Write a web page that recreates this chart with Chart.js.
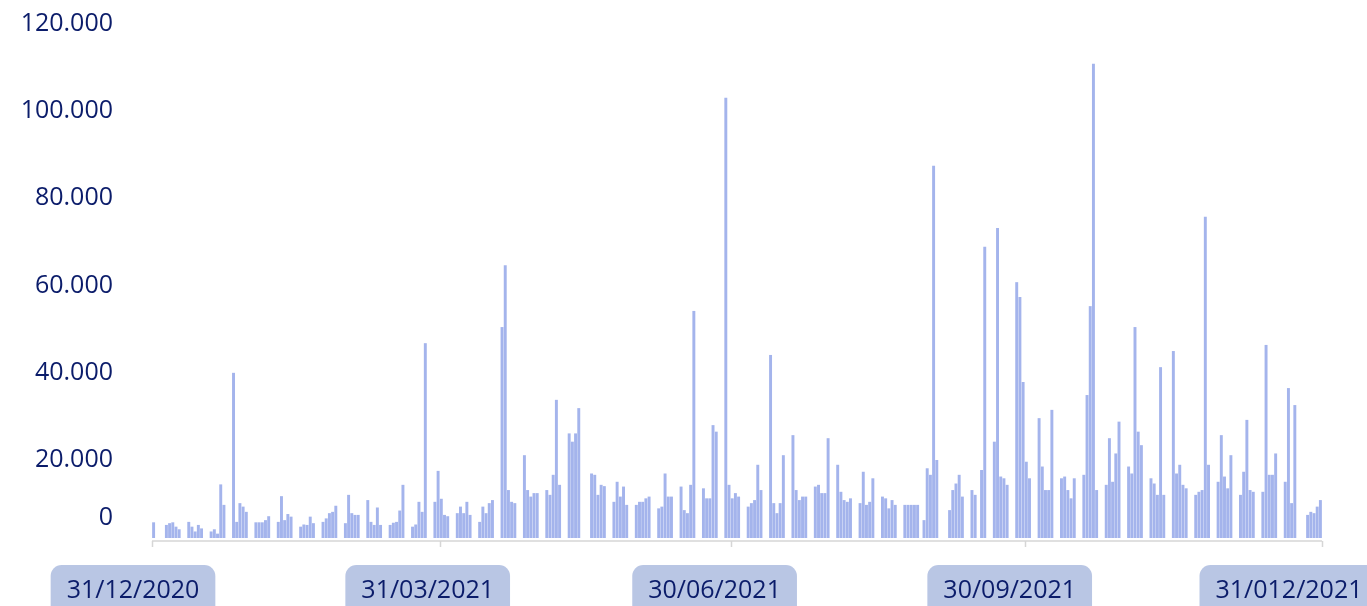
<!DOCTYPE html>
<html>
<head>
<meta charset="utf-8">
<script src="https://cdn.jsdelivr.net/npm/chart.js@4/dist/chart.umd.min.js"></script>
<style>
  html, body { margin: 0; padding: 0; background: #ffffff; }
  canvas { display: block; }
</style>
</head>
<body>
<canvas id="chart" width="1367" height="606"></canvas>
<script>
// Daily values (one entry per day, 0 = no bar)

const year     = 2021
const dec2020  = [3600]
const jan2021  = [0, 0, 0, 3000, 3400, 3600, 2600, 2000, 0, 0, 3700, 2600, 1500, 3000, 2200, 0, 0, 1500, 2000, 1000, 12300, 7600, 0, 0, 37900, 3700, 8000, 7200, 6000, 0, 0]
const feb2021  = [3600, 3600, 3600, 4100, 5000, 0, 0, 3700, 9600, 4100, 5500, 4900, 0, 0, 2600, 3100, 3000, 4900, 3400, 0, 0, 3700, 4500, 5700, 6000, 7400, 0, 0]
const mar2021  = [3400, 9900, 5700, 5300, 5300, 0, 0, 8700, 3700, 3000, 7000, 3000, 0, 0, 3000, 3500, 3700, 6300, 12200, 0, 0, 2600, 3100, 8300, 6000, 44700, 0, 0, 8300, 15400, 9000]
const apr2021  = [5300, 5000, 0, 0, 5700, 7200, 5700, 8300, 5300, 0, 0, 3700, 7200, 5700, 8000, 8700, 0, 0, 48400, 62600, 11000, 8300, 8000, 0, 0, 19000, 11000, 9500, 10300, 10300]
const may2021  = [0, 0, 11000, 9900, 14500, 31700, 12200, 0, 0, 24000, 22100, 24000, 29800, 0, 0, 0, 14800, 14500, 9900, 12200, 11900, 0, 0, 8300, 12900, 9500, 11800, 7600, 0, 0, 7600]
const jun2021  = [8300, 8300, 9100, 9500, 0, 0, 6800, 7200, 14800, 9500, 9500, 0, 0, 11800, 6400, 5700, 12200, 52100, 0, 0, 11400, 9100, 9100, 25900, 24400, 0, 0, 101000, 12200, 9100]
const jul2021  = [10300, 9500, 0, 0, 7200, 8000, 8700, 16800, 11000, 0, 0, 42000, 8000, 5700, 8000, 19000, 0, 0, 23600, 11000, 8700, 9500, 9500, 0, 0, 11800, 12200, 10300, 10300, 22900, 0]
const aug2021  = [0, 16800, 10600, 8700, 8300, 9100, 0, 0, 8000, 15200, 7600, 8300, 13700, 0, 0, 9500, 9100, 6800, 8700, 7600, 0, 0, 7600, 7600, 7600, 7600, 7600, 0, 4100, 16000, 14500]
const sep2021  = [85400, 17900, 0, 0, 0, 6400, 11000, 12500, 14500, 9500, 0, 0, 11000, 9900, 0, 15600, 66800, 0, 0, 22100, 71100, 14100, 13700, 12200, 0, 0, 58700, 55300, 35800, 17500]
const oct2021  = [13700, 0, 0, 27500, 16400, 11000, 11000, 29400, 0, 0, 13700, 14100, 11000, 9100, 13700, 0, 0, 14500, 32800, 53200, 108800, 11000, 0, 0, 12200, 22900, 12900, 19400, 26700, 0, 0]
const nov2021  = [16400, 14800, 48400, 24400, 21300, 0, 0, 13700, 12500, 9900, 39200, 9900, 0, 0, 42900, 14800, 16800, 12200, 11400, 0, 0, 9900, 10600, 11000, 73700, 16800, 0, 0, 12900, 23600]
const dec2021  = [14100, 11400, 19000, 0, 0, 9900, 15200, 27100, 11000, 10600, 0, 0, 10600, 44300, 14500, 14500, 19400, 0, 0, 12900, 34400, 8000, 30500, 0, 0, 0, 5300, 6000, 5700, 7200, 8700]

const months2021 = [jan2021, feb2021, mar2021, apr2021, may2021, jun2021, jul2021, aug2021, sep2021, oct2021, nov2021, dec2021]

// Axis text
const yTickValues = [0, 20000, 40000, 60000, 80000, 100000, 120000]
const yTickLabels = ['0', '20.000', '40.000', '60.000', '80.000', '100.000', '120.000']
const xTickIndex  = [0, 90, 181, 273, 366]
const xTickLabels = ['31/12/2020', '31/03/2021', '30/06/2021', '30/09/2021', '31/012/2021']
const xLabelShift = [-19, -12, -16, -15, -33]

// Category labels: one per day
const pad    = n => String(n).padStart(2, '0')
const labels = ['31/12/2020']
months2021.forEach((month, m) => {
  month.forEach((_, d) => labels.push(`${pad(d + 1)}/${pad(m + 1)}/${year}`))
})
const values = dec2020.concat(...months2021)

const NAVY    = '#0b1c6a'
const FONT    = '"Open Sans", "Noto Sans", sans-serif'
const BOX_BG  = '#b9c6e4'

const axisDecor = {
  id: 'axisDecor',
  afterDraw(chart)
  {
    const { ctx, chartArea } = chart
    const x = chart.scales.x
    const y = chart.scales.y

    ctx.save()

    // baseline with quarter tick marks
    const baseY = chartArea.bottom + 3
    ctx.strokeStyle = '#d6d6d6'
    ctx.lineWidth   = 1.5
    ctx.beginPath()
    ctx.moveTo(chartArea.left, baseY)
    ctx.lineTo(chartArea.right, baseY)
    xTickIndex.forEach(idx => {
      const px = Math.round(x.getPixelForValue(idx - 0.5)) + 0.5
      ctx.moveTo(px, baseY)
      ctx.lineTo(px, baseY + 6)
    })
    ctx.stroke()

    // y labels
    ctx.font         = `25px ${FONT}`
    ctx.fillStyle    = NAVY
    ctx.textAlign    = 'right'
    ctx.textBaseline = 'middle'
    yTickValues.forEach((v, i) => {
      const py = y.getPixelForValue(v) + (v === 0 ? -20 : 9)
      ctx.fillText(yTickLabels[i], 113, py)
    })

    // x labels in rounded boxes
    ctx.textAlign = 'center'
    xTickLabels.forEach((text, i) => {
      const px = x.getPixelForValue(xTickIndex[i] - 0.5)
      const w  = ctx.measureText(text).width + 32
      const cx = px + xLabelShift[i]

      ctx.fillStyle = BOX_BG
      ctx.beginPath()
      ctx.roundRect(cx - w / 2, 565, w, 52, 11)
      ctx.fill()

      ctx.fillStyle = NAVY
      ctx.fillText(text, cx, 591)
    })

    ctx.restore()
  }
}

new Chart(document.getElementById('chart'), {
  type: 'bar',
  data: {
    labels: labels,
    datasets: [{
      data:               values,
      backgroundColor:    'rgb(164, 180, 236)',
      borderWidth:        0,
      barPercentage:      0.92,
      categoryPercentage: 1.0
    }]
  },
  options: {
    responsive: false,
    animation:  false,
    layout: {
      padding: { left: 152, right: 45, top: 15, bottom: 68 }
    },
    scales: {
      x: { display: false, offset: true },
      y: { display: false, min: 0, max: 120000 }
    },
    plugins: {
      legend:  { display: false },
      tooltip: { enabled: false }
    }
  },
  plugins: [axisDecor]
})
</script>
</body>
</html>
